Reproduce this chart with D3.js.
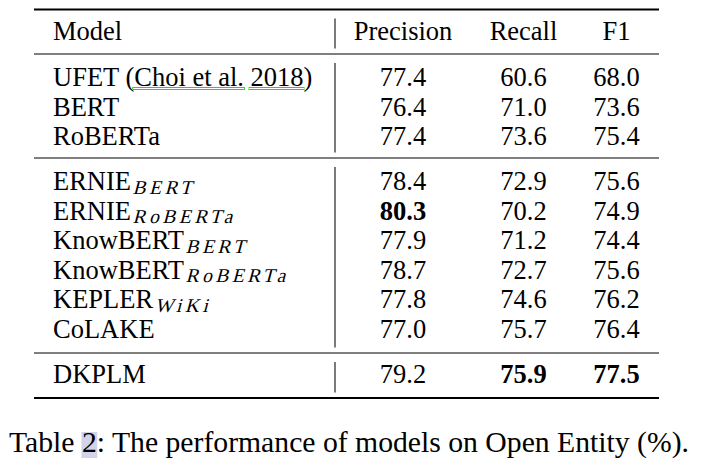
<!DOCTYPE html>
<html>
<head>
<meta charset="utf-8">
<script src="https://cdn.jsdelivr.net/npm/d3@7"></script>
<style>
  html, body { margin: 0; padding: 0; background: #fff; }
  svg { display: block; }
</style>
</head>
<body>
<svg id="chart" width="701" height="467"></svg>
<script>
// ---- data ----
const columns = ["Precision", "Recall", "F1"];
const models = ["UFET", "BERT", "RoBERTa", "ERNIE", "ERNIE", "KnowBERT", "KnowBERT", "KEPLER", "CoLAKE", "DKPLM"];
const subscripts = ["", "", "", "BERT", "RoBERTa", "BERT", "RoBERTa", "WiKi", "", ""];
const citation = ["Choi et al.", "2018"]; // attached to first model
const groups = [0, 0, 0, 1, 1, 1, 1, 1, 1, 2];
const precision = [77.4, 76.4, 77.4, 78.4, 80.3, 77.9, 78.7, 77.8, 77.0, 79.2];
const recall = [60.6, 71.0, 73.6, 72.9, 70.2, 71.2, 72.7, 74.6, 75.7, 75.9];
const f1 = [68.0, 73.6, 75.4, 75.6, 74.9, 74.4, 75.6, 76.2, 76.4, 77.5];
const caption = ["Table ", "2", ": The performance of models on Open Entity (%)."];

// ---- layout ----
const svg = d3.select("#chart");
const FONT = "'Liberation Serif', 'Times New Roman', serif";
const fs = 26.5;
const left = 34, right = 659;
const modelX = 53;

const colX = d3.scaleOrdinal().domain(columns).range([403, 523.5, 616.5]);
const rowY = d3.scaleLinear().domain([0, 1]).range([86, 86 + 29.6]);
const groupGap = 15.2;
const baseline = (i) => rowY(i) + groups[i] * groupGap;

const values = { Precision: precision, Recall: recall, F1: f1 };
const best = {};
columns.forEach(c => { best[c] = d3.max(values[c]); });

// rules
const rules = [
  { y: 9.5, w: 2.2 },
  { y: 54, w: 1.1 },
  { y: 158, w: 1.1 },
  { y: 353, w: 1.1 },
  { y: 398, w: 2.2 }
];
svg.selectAll("line.rule").data(rules).join("line")
  .attr("class", "rule")
  .attr("x1", left).attr("x2", right)
  .attr("y1", d => d.y).attr("y2", d => d.y)
  .attr("stroke", "#000").attr("stroke-width", d => d.w);

// vertical separators
const segs = d3.pairs(rules).map(([a, b]) => ({ y1: a.y + 9, y2: b.y - 5.5 }));
svg.selectAll("line.vsep").data(segs).join("line")
  .attr("class", "vsep")
  .attr("x1", 335).attr("x2", 335)
  .attr("y1", d => d.y1).attr("y2", d => d.y2)
  .attr("stroke", "#333").attr("stroke-width", 1.3);

// header
const headY = 39.5;
svg.append("text").attr("x", modelX).attr("y", headY)
  .attr("font-family", FONT).attr("font-size", fs).text("Model");
svg.selectAll("text.colhead").data(columns).join("text")
  .attr("class", "colhead")
  .attr("x", d => colX(d)).attr("y", headY)
  .attr("text-anchor", "middle")
  .attr("font-family", FONT).attr("font-size", fs)
  .text(d => d);

// model names
const idx = d3.range(models.length);
const names = svg.selectAll("text.model").data(idx).join("text")
  .attr("class", "model")
  .attr("x", modelX).attr("y", i => baseline(i))
  .attr("font-family", FONT).attr("font-size", fs);

names.each(function(i) {
  const t = d3.select(this);
  if (i === 0) {
    t.append("tspan").text(models[i] + " (");
    t.append("tspan").text(citation[0]);
    t.append("tspan").text(" ");
    t.append("tspan").text(citation[1]);
    t.append("tspan").text(")");
  } else {
    t.text(models[i]);
    if (subscripts[i]) {
      const w = this.getComputedTextLength();
      svg.append("text")
        .attr("class", "sub")
        .attr("transform", `translate(${modelX + w + 1.5},${baseline(i) + 3.5}) skewX(-15)`)
        .attr("font-family", FONT)
        .attr("font-size", 19.5)
        .attr("letter-spacing", 3.5)
        .text(subscripts[i]);
    }
  }
});

// citation link boxes
const first = names.filter(i => i === 0).node();
const full = first.textContent;
citation.forEach(c => {
  const start = full.indexOf(c);
  const x0 = first.getStartPositionOfChar(start).x;
  const len = first.getSubStringLength(start, c.length);
  svg.append("rect")
    .attr("x", x0 - 1.5).attr("y", baseline(0) + 1.5)
    .attr("width", len + 2).attr("height", 2)
    .attr("fill", "none").attr("stroke", "#00ee00").attr("stroke-width", 1);
});

// values
const cells = [];
idx.forEach(i => columns.forEach(c => cells.push({ i, c, v: values[c][i] })));
svg.selectAll("text.val").data(cells).join("text")
  .attr("class", "val")
  .attr("x", d => colX(d.c)).attr("y", d => baseline(d.i))
  .attr("text-anchor", "middle")
  .attr("font-family", FONT).attr("font-size", fs)
  .attr("font-weight", d => d.v === best[d.c] ? "bold" : "normal")
  .text(d => d.v.toFixed(1));

// caption
const cap = svg.append("text").attr("x", 9).attr("y", 451.7)
  .attr("font-family", FONT).attr("font-size", 29.7);
caption.forEach(s => cap.append("tspan").text(s));
const capNode = cap.node();
const hiStart = caption[0].length;
const hx = capNode.getStartPositionOfChar(hiStart).x;
const hw = capNode.getSubStringLength(hiStart, caption[1].length);
svg.insert("rect", "text")
  .attr("x", hx - 0.5).attr("y", 432).attr("width", hw + 1).attr("height", 26)
  .attr("fill", "#d2d3e8");
</script>
</body>
</html>
